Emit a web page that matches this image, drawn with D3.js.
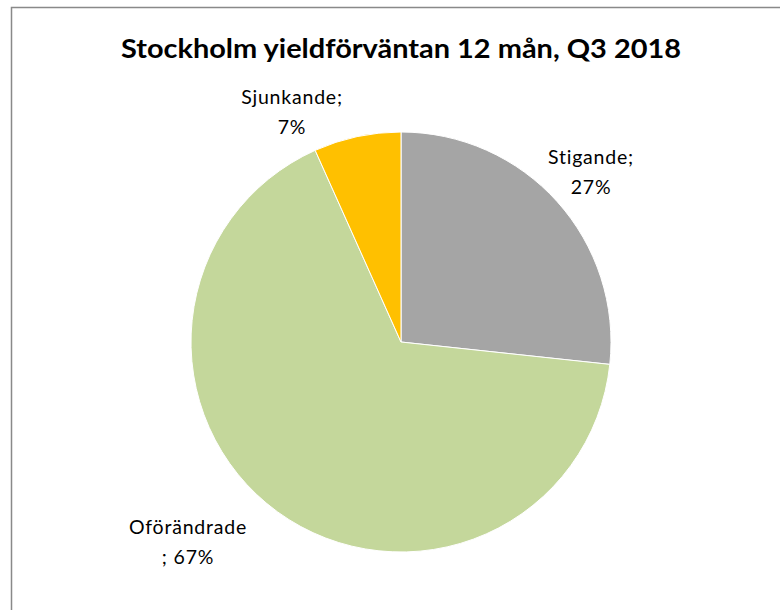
<!DOCTYPE html>
<html>
<head>
<meta charset="utf-8">
<script src="https://cdn.jsdelivr.net/npm/d3@7"></script>
<style>
  body { margin: 0; background: #fff; }
  text { font-family: Lato, "Open Sans", sans-serif; }
</style>
</head>
<body>
<div id="chart-area"></div>
<script>
// pie data: Stockholm yield expectation
var categories = ["Stigande", "Oförändrade", "Sjunkande"];
var values = [26.7, 66.6, 6.7];
var pctLabels = ["27%", "67%", "7%"];
var colors = ["#a5a5a5", "#c4d79b", "#ffc000"];

var width = 780, height = 610;

var svg = d3.select("#chart-area")
    .append("svg")
    .attr("width", width)
    .attr("height", height);

// chart frame (cut off at right and bottom)
svg.append("rect")
    .attr("x", 11.5)
    .attr("y", 7.5)
    .attr("width", 800)
    .attr("height", 700)
    .attr("fill", "#fff")
    .attr("stroke", "#898989")
    .attr("stroke-width", 1.5);

svg.append("text")
    .attr("x", 401)
    .attr("y", 58)
    .attr("text-anchor", "middle")
    .attr("font-size", 26)
    .attr("font-weight", "bold")
    .attr("textLength", 560)
    .attr("lengthAdjust", "spacingAndGlyphs")
    .attr("fill", "#000")
    .text("Stockholm yieldförväntan 12 mån, Q3 2018");

var cx = 401, cy = 342, r = 210;

var data = categories.map(function (c, i) {
    return { name: c, value: values[i], pct: pctLabels[i], color: colors[i] };
});

var pie = d3.pie()
    .sort(null)
    .value(function (d) { return d.value; });

var arc = d3.arc().innerRadius(0).outerRadius(r);

var g = svg.append("g")
    .attr("transform", "translate(" + cx + "," + cy + ")");

g.selectAll("path")
    .data(pie(data))
    .enter()
    .append("path")
    .attr("d", arc)
    .attr("fill", function (d) { return d.data.color; })
    .attr("stroke", "#fff")
    .attr("stroke-width", 1);

// label positions, placed outside the pie like Excel does
var labelPos = {
    "Stigande": { x: 591, y: 164, lines: ["Stigande;", "27%"] },
    "Oförändrade": { x: 188, y: 534, lines: ["Oförändrade", "; 67%"] },
    "Sjunkande": { x: 292, y: 104, lines: ["Sjunkande;", "7%"] }
};

data.forEach(function (d) {
    var p = labelPos[d.name];
    var t = svg.append("text")
        .attr("text-anchor", "middle")
        .attr("font-size", 19.5)
        .attr("letter-spacing", 0.8)
        .attr("fill", "#000");
    p.lines.forEach(function (line, i) {
        t.append("tspan")
            .attr("x", p.x)
            .attr("y", p.y + i * 30)
            .text(line);
    });
});
</script>
</body>
</html>
